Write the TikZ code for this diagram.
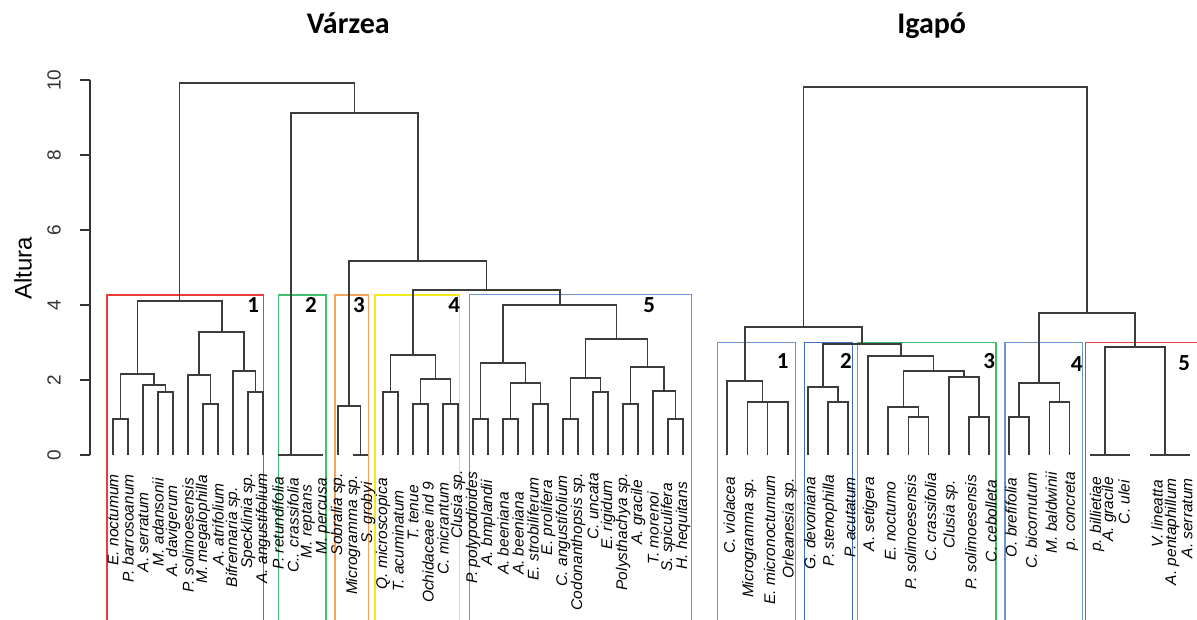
\documentclass[tikz,border=0pt]{standalone}
\usepackage{fontspec}
\setmainfont{Liberation Sans}
\newfontfamily\titlefont{Carlito}
\definecolor{dgray}{HTML}{3C3C3C}
\definecolor{axgray}{HTML}{333333}
\definecolor{bred}{HTML}{EE3B3B}
\definecolor{bgreen}{HTML}{3DBE6B}
\definecolor{borange}{HTML}{F5A25D}
\definecolor{byellow}{HTML}{F2EA1C}
\definecolor{bblue}{HTML}{6F93CF}
\definecolor{bblue2}{HTML}{3A6FC4}
\newcommand{\ulink}[5]{\draw[den] (#1,#2) -- (#1,#5) -- (#3,#5) -- (#3,#4);}
\tikzset{
  den/.style={draw=dgray, line width=1.7pt},
  grpbox/.style={line width=1.2pt},
  leaflab/.style={rotate=90, anchor=east, inner sep=0pt, text=black,
    font=\fontsize{15.5}{15.5}\selectfont\itshape},
  grpnum/.style={inner sep=0pt, font=\titlefont\bfseries\fontsize{23}{23}\selectfont},
  ticklab/.style={rotate=90, inner sep=0pt, text=axgray, font=\fontsize{19}{19}\selectfont},
  ttl/.style={anchor=base, inner sep=0pt, font=\titlefont\bfseries\fontsize{30}{30}\selectfont}
}
\begin{document}
\begin{tikzpicture}[x=1pt, y=-1pt]
\useasboundingbox (0,0) rectangle (1197,619);
\clip (0,0) rectangle (1197,619);
\fill[white] (0,0) rectangle (1197,619);

% titles
\node[ttl] (tv) at (348.3,33) {Várzea};
\node[ttl] (ti) at (931.7,33) {Igapó};

% axis
\draw[axgray, line width=1.4pt] (90,80) -- (90,455);
\foreach \k in {0,2,4,6,8,10} {
  \pgfmathsetmacro\yy{455-37.5*\k}
  \draw[axgray, line width=1.4pt] (80,\yy) -- (90,\yy);
  \node[ticklab] (t\k) at (54,\yy) {\k};
}
\node[rotate=90, inner sep=0pt, font=\fontsize{24}{24}\selectfont] (alt) at (23,268) {Altura};

% boxes left
\draw[grpbox, bred] (107,625) -- (107,295) -- (263.3,295) -- (263.3,625);
\draw[grpbox, bgreen] (278.3,625) -- (278.3,295) -- (326,295) -- (326,625);
\draw[grpbox, borange] (335,625) -- (335,295) -- (368.3,295) -- (368.3,625);
\draw[grpbox, byellow] (375,625) -- (375,295) -- (459.3,295) -- (459.3,625);
\draw[grpbox, bblue] (469.3,625) -- (469.3,294.5) -- (691.7,294.5) -- (691.7,625);
% boxes right
\draw[grpbox, bblue] (717.3,625) -- (717.3,342.7) -- (795.7,342.7) -- (795.7,625);
\draw[grpbox, bblue2] (804.3,625) -- (804.3,342.7) -- (852.3,342.7) -- (852.3,625);
\draw[grpbox, bgreen] (857.7,625) -- (857.7,342.7) -- (996,342.7) -- (996,625);
\draw[grpbox, bblue] (1005,625) -- (1005,342.7) -- (1082.3,342.7) -- (1082.3,625);
\draw[grpbox, bred] (1085.3,625) -- (1085.3,342.7) -- (1205,342.7);

% group numbers
\node[grpnum] (n1) at (253.3,305) {1};
\node[grpnum] (n2) at (311,305) {2};
\node[grpnum] (n3) at (359,305) {3};
\node[grpnum] (n4) at (454.3,305) {4};
\node[grpnum] (n5) at (649.3,305) {5};
\node[grpnum] (m1) at (782.7,361) {1};
\node[grpnum] (m2) at (846,361) {2};
\node[grpnum] (m3) at (989.3,361) {3};
\node[grpnum] (m4) at (1076.7,364) {4};
\node[grpnum] (m5) at (1184.3,363) {5};

% ---------- left dendrogram ----------
% cluster 1
\ulink{113}{455}{128}{455}{419}
\ulink{158}{455}{173}{455}{392}
\ulink{143}{455}{165.5}{392}{385}
\ulink{120.5}{419}{154.25}{385}{374}
\ulink{203}{455}{218}{455}{404}
\ulink{188}{455}{210.5}{404}{375}
\ulink{248}{455}{263}{455}{392}
\ulink{233}{455}{255.5}{392}{371}
\ulink{199.25}{375}{244.25}{371}{332}
\ulink{137.375}{374}{221.75}{332}{301}
% cluster 2
\draw[den] (278,455) -- (323,455);
% cluster 3
\draw[den] (353,455) -- (368,455);
\ulink{338}{455}{360.5}{455}{406}
% cluster 4
\ulink{383}{455}{398}{455}{392}
\ulink{413}{455}{428}{455}{404}
\ulink{443}{455}{458}{455}{404}
\ulink{420.5}{404}{450.5}{404}{379}
\ulink{390.5}{392}{435.5}{379}{355}
% cluster 5
\ulink{473}{455}{488}{455}{419}
\ulink{503}{455}{518}{455}{419}
\ulink{533}{455}{548}{455}{404}
\ulink{510.5}{419}{540.5}{404}{383}
\ulink{480.5}{419}{525.5}{383}{363}
\ulink{563}{455}{578}{455}{419}
\ulink{593}{455}{608}{455}{392}
\ulink{570.5}{419}{600.5}{392}{378}
\ulink{623}{455}{638}{455}{404}
\ulink{668}{455}{683}{455}{419}
\ulink{653}{455}{675.5}{419}{391}
\ulink{630.5}{404}{664.25}{391}{367}
\ulink{585.5}{378}{647.375}{367}{339}
\ulink{503}{363}{616.44}{339}{305}
% upper
\ulink{413}{355}{559.72}{305}{290}
\ulink{349.25}{406}{486.36}{290}{261}
\ulink{291.1}{455}{417.8}{261}{113.3}
\ulink{179.56}{301}{354.45}{113.3}{83.3}

% ---------- right dendrogram ----------
\ulink{767.56}{455}{787.69}{455}{401.7}
\ulink{747.43}{455}{777.63}{401.7}{401.7}
\ulink{727.3}{455}{762.53}{401.7}{381}
\ulink{827.95}{455}{848.08}{455}{402.3}
\ulink{807.82}{455}{838.0}{402.3}{387.3}
\ulink{908.47}{455}{928.6}{455}{416.7}
\ulink{888.34}{455}{918.5}{416.7}{407.3}
\ulink{968.86}{455}{988.99}{455}{416.7}
\ulink{948.73}{455}{978.9}{416.7}{376.7}
\ulink{903.4}{407.3}{963.8}{376.7}{370.7}
\ulink{868.21}{455}{933.6}{370.7}{356}
\ulink{822.9}{387.3}{900.9}{356}{344.3}
\ulink{744.9}{381}{861.9}{344.3}{327.3}
\ulink{1009.12}{455}{1029.25}{455}{416.7}
\ulink{1049.38}{455}{1069.51}{455}{401.7}
\ulink{1019.19}{416.7}{1059.45}{401.7}{382.7}
\draw[den] (1089.64,455) -- (1129.9,455);
\draw[den] (1150.03,455) -- (1190.29,455);
\ulink{1104.74}{455}{1165.13}{455}{346.7}
\ulink{1039.32}{382.7}{1134.9}{346.7}{312.7}
\ulink{803.4}{327.3}{1087.1}{312.7}{86.7}

% ---------- leaf labels ----------
\foreach \lab/\ty [count=\i from 0] in {
  E. noctumum/474, P. barrosoanum/474, A. serratum/492, M. adansonii/478,
  A. davigerum/485, P. solimoesensis/478, M. megalophilla/475, A. atrifolium/483,
  Bifrennaria sp./487, Specklinia sp./473, A. angustifolium/473,
  P. retundifolia/477, C.. crassifolia/478, M. reptans/485, M. percusa/478,
  Sobralia sp./473, Microgramma sp./475, S. grobyi/482,
  Q. microscopica/478, T. acuminatum/490, T. tenue/485, Ochidaceae ind 9/482,
  C. micrantum/482, Clusia sp./470,
  P. polypodioides/472, A. bmplandii/480, A. beeniana/492, A. beeniana/492,
  E. strobiliferum/477, E. prolifera/480, C. angustifolium/475,
  Codonanthopsis sp./473, C. uncata/473, E. rigidum/480, Polysthachya sp./473,
  A. gracile/480, T. morenoi/492, S. spiculifera/483, H. hequitans/482} {
  \pgfmathsetmacro\xx{113+15*\i}
  \node[leaflab] (L\i) at (\xx,\ty) {\lab};
}
\foreach \lab/\ty [count=\j from 0] in {
  C. violacea/477, Microgramma sp./478, E. micronoctumum/475, Orleanesia  sp./478,
  G. devoniana/477, P. stenophilla/475, P. acutatum/477, A. setigera/477,
  E. noctumo/482, P. solimoesensis/475, C. crassifolia/473, Clusia sp./480,
  P. solimoesensis/475, C. cebolleta/480, O. brefifolia/478, C. bicornutum/472,
  M. baldwinii/472, p. concreta/472} {
  \pgfmathsetmacro\xx{729.3+20.13*\j}
  \node[leaflab] (R\j) at (\xx,\ty) {\lab};
}
\foreach \lab/\xx/\ty [count=\k from 18] in {
  p. billietiae/1097/477, A. gracile/1109/477, C. ulei/1124/480,
  V. lineatta/1157/480, A. pentaphillum/1172/478, A. serratum/1187/478} {
  \node[leaflab] (R\k) at (\xx,\ty) {\lab};
}
\end{tikzpicture}
\end{document}
